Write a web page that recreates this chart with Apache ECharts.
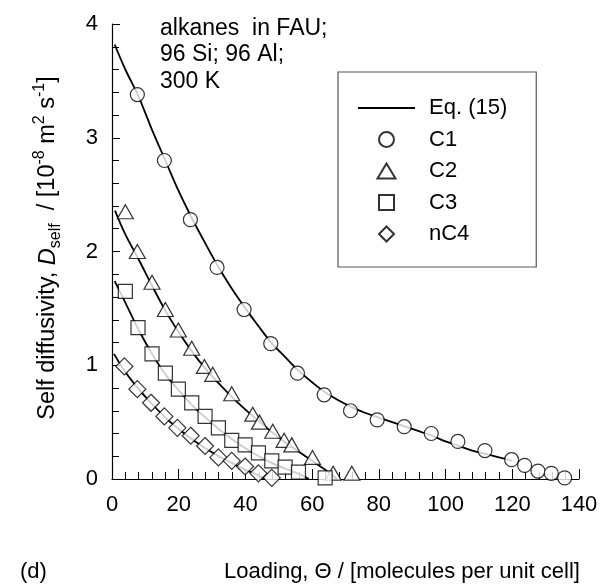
<!DOCTYPE html>
<html><head><meta charset="utf-8">
<script src="https://cdn.jsdelivr.net/npm/echarts@6.0.0/dist/echarts.min.js"></script>
<style>html,body{margin:0;padding:0;background:#fff}#c{width:614px;height:587px}</style>
</head><body><div id="c"></div>
<script>
// Simulation data
const c1X = [7.6, 15.7, 23.5, 31.5, 39.6, 47.6, 55.6, 63.6, 71.5, 79.5, 87.6, 95.7, 103.7, 111.8, 119.8, 123.7, 127.7, 131.7, 135.7];
const c1Y = [3.38, 2.80, 2.28, 1.86, 1.49, 1.19, 0.93, 0.74, 0.60, 0.52, 0.46, 0.40, 0.33, 0.25, 0.17, 0.12, 0.07, 0.05, 0.01];
const c2X = [4.0, 7.6, 12.0, 16.0, 19.9, 23.9, 27.7, 30.2, 35.9, 42.2, 44.2, 48.2, 51.6, 53.9, 60.1, 66.3, 71.9];
const c2Y = [2.35, 2.00, 1.73, 1.49, 1.31, 1.15, 0.99, 0.92, 0.75, 0.57, 0.50, 0.42, 0.34, 0.30, 0.19, 0.05, 0.05];
const c3X = [4.0, 7.8, 12.0, 16.0, 19.9, 23.9, 27.9, 31.9, 35.9, 39.9, 43.9, 47.9, 51.9, 55.9, 63.9];
const c3Y = [1.65, 1.33, 1.10, 0.93, 0.79, 0.67, 0.55, 0.45, 0.34, 0.30, 0.23, 0.16, 0.105, 0.06, 0.01];
const c4X = [3.7, 7.6, 11.7, 15.7, 19.6, 23.6, 27.9, 31.9, 35.9, 39.9, 43.9, 47.9];
const c4Y = [0.99, 0.79, 0.67, 0.55, 0.45, 0.38, 0.29, 0.19, 0.16, 0.11, 0.05, 0.01];

// Eq. (15) curves
const eq1X = [0.8, 4, 8, 12, 16, 20, 24, 28, 32, 36, 40, 44, 48, 52, 56, 60, 64, 68, 72, 76, 80, 84, 88, 92, 96, 100, 104, 108, 112, 116, 120];
const eq1Y = [3.82, 3.60, 3.36, 3.07, 2.80, 2.53, 2.29, 2.07, 1.86, 1.67, 1.50, 1.34, 1.19, 1.07, 0.95, 0.85, 0.76, 0.69, 0.63, 0.58, 0.54, 0.50, 0.46, 0.42, 0.38, 0.33, 0.29, 0.25, 0.22, 0.19, 0.16];
const eq2X = [0.9, 4, 8, 12, 16, 20, 24, 28, 32, 36, 40, 44, 48, 52, 56, 60, 64, 67.4];
const eq2Y = [2.36, 2.15, 1.93, 1.70, 1.48, 1.29, 1.12, 0.97, 0.84, 0.72, 0.61, 0.51, 0.41, 0.32, 0.24, 0.16, 0.08, 0.0];
const eq3X = [0.8, 4, 8, 12, 16, 20, 24, 28, 32, 36, 40, 44, 48, 52, 56, 59];
const eq3Y = [1.74, 1.55, 1.31, 1.10, 0.92, 0.78, 0.65, 0.54, 0.44, 0.35, 0.27, 0.20, 0.14, 0.09, 0.045, 0.0];
const eq4X = [0.6, 4, 8, 12, 16, 20, 24, 28, 32, 36, 40, 44, 46];
const eq4Y = [1.10, 0.94, 0.79, 0.66, 0.54, 0.44, 0.35, 0.27, 0.20, 0.14, 0.08, 0.03, 0.0];

const legendNames = ['Eq. (15)', 'C1', 'C2', 'C3', 'nC4'];
const annotation = ['alkanes  in FAU;', '96 Si; 96 Al;', '300 K'];
const xTitle = 'Loading, \u0398 / [molecules per unit cell]';
const panelLabel = '(d)';

const FONT = '"Liberation Sans", Arial, sans-serif';
const pairs = (xs, ys) => xs.map((x, i) => [x, ys[i]]);
const mk = { color: '#fff', borderColor: '#000', borderWidth: 1.2 };
const lineS = (x, y) => ({ name: legendNames[0], type: 'line', data: pairs(x, y), smooth: 0.35, symbol: 'none', lineStyle: { color: '#000', width: 1.8 }, itemStyle: { color: '#000' }, z: 2 });
const scat = (name, sym, size, x, y) => ({ name, type: 'scatter', symbol: sym, symbolSize: size, data: pairs(x, y), itemStyle: mk, z: 3 });

const legendIcons = [
  'path://M0,0L57,0L57,2L0,2Z',
  'circle',
  'path://M9,0L18,15L0,15Z',
  'path://M0,0L14,0L14,14L0,14Z',
  'path://M8,0L16,8L8,16L0,8Z'
];

const chart = echarts.init(document.getElementById('c'), null, { renderer: 'canvas' });
chart.setOption({
  animation: false,
  backgroundColor: '#fff',
  grid: { left: 112, right: 35, top: 24, bottom: 108 },
  xAxis: {
    type: 'value', min: 0, max: 140, interval: 20,
    axisLine: { lineStyle: { color: '#000', width: 1.2 } },
    axisTick: { inside: true, length: 10, lineStyle: { color: '#000', width: 1 } },
    minorTick: { show: true, splitNumber: 5, length: 7, lineStyle: { color: '#000', width: 1 } },
    splitLine: { show: false },
    axisLabel: { fontSize: 22, color: '#000', fontFamily: FONT, margin: 15 }
  },
  yAxis: {
    type: 'value', min: 0, max: 4, interval: 1,
    axisLine: { show: true, lineStyle: { color: '#000', width: 1.2 } },
    axisTick: { show: true, inside: true, length: 8, lineStyle: { color: '#000', width: 1 } },
    minorTick: { show: true, splitNumber: 5, length: 7, lineStyle: { color: '#000', width: 1 } },
    splitLine: { show: false },
    axisLabel: { fontSize: 22, color: '#000', fontFamily: FONT, margin: 14 }
  },
  legend: {
    data: legendNames.map((n, i) => ({ name: n, icon: legendIcons[i] })),
    orient: 'vertical', left: 338, top: 72,
    itemWidth: 57, itemHeight: 15, itemGap: 9.5,
    padding: [25, 29, 22, 20],
    borderColor: '#555', borderWidth: 1.2, backgroundColor: '#fff',
    textStyle: { fontSize: 22, fontFamily: FONT, color: '#000', lineHeight: 22, padding: [0, 0, 0, 9] },
    selectedMode: false
  },
  series: [
    lineS(eq1X, eq1Y), lineS(eq2X, eq2Y), lineS(eq3X, eq3Y), lineS(eq4X, eq4Y),
    scat('C1', 'circle', 14, c1X, c1Y),
    scat('C2', 'triangle', [16, 14], c2X, c2Y),
    scat('C3', 'rect', 14, c3X, c3Y),
    scat('nC4', 'diamond', 17, c4X, c4Y)
  ],
  graphic: [
    { type: 'text', left: 160, top: 15, z: 10, style: { text: annotation.join('\n'), fontSize: 23, fontFamily: FONT, fill: '#000', lineHeight: 26.5 } },
    { type: 'text', x: 48, y: 248, rotation: Math.PI / 2, z: 10,
      style: {
        text: '{a|Self diffusivity, }{i|D}{sub|self}{a|  / [10}{sup|-8}{a| m}{sup|2}{a| s}{sup|-1}{a|]}',
        align: 'center', verticalAlign: 'middle', fill: '#000',
        rich: {
          a: { fontSize: 23.5, fontFamily: FONT, lineHeight: 32, verticalAlign: 'middle' },
          i: { fontSize: 23.5, fontFamily: FONT, fontStyle: 'italic', lineHeight: 32, verticalAlign: 'middle' },
          sub: { fontSize: 16, fontFamily: FONT, lineHeight: 16, verticalAlign: 'bottom' },
          sup: { fontSize: 16, fontFamily: FONT, lineHeight: 16, verticalAlign: 'top' }
        }
      } },
    { type: 'text', x: 20, y: 572, z: 10, style: { text: panelLabel, fontSize: 22, fontFamily: FONT, fill: '#000', verticalAlign: 'middle' } },
    { type: 'text', x: 402, y: 572, z: 10, style: { text: xTitle, fontSize: 22, fontFamily: FONT, fill: '#000', align: 'center', verticalAlign: 'middle' } }
  ]
});
</script></body></html>
